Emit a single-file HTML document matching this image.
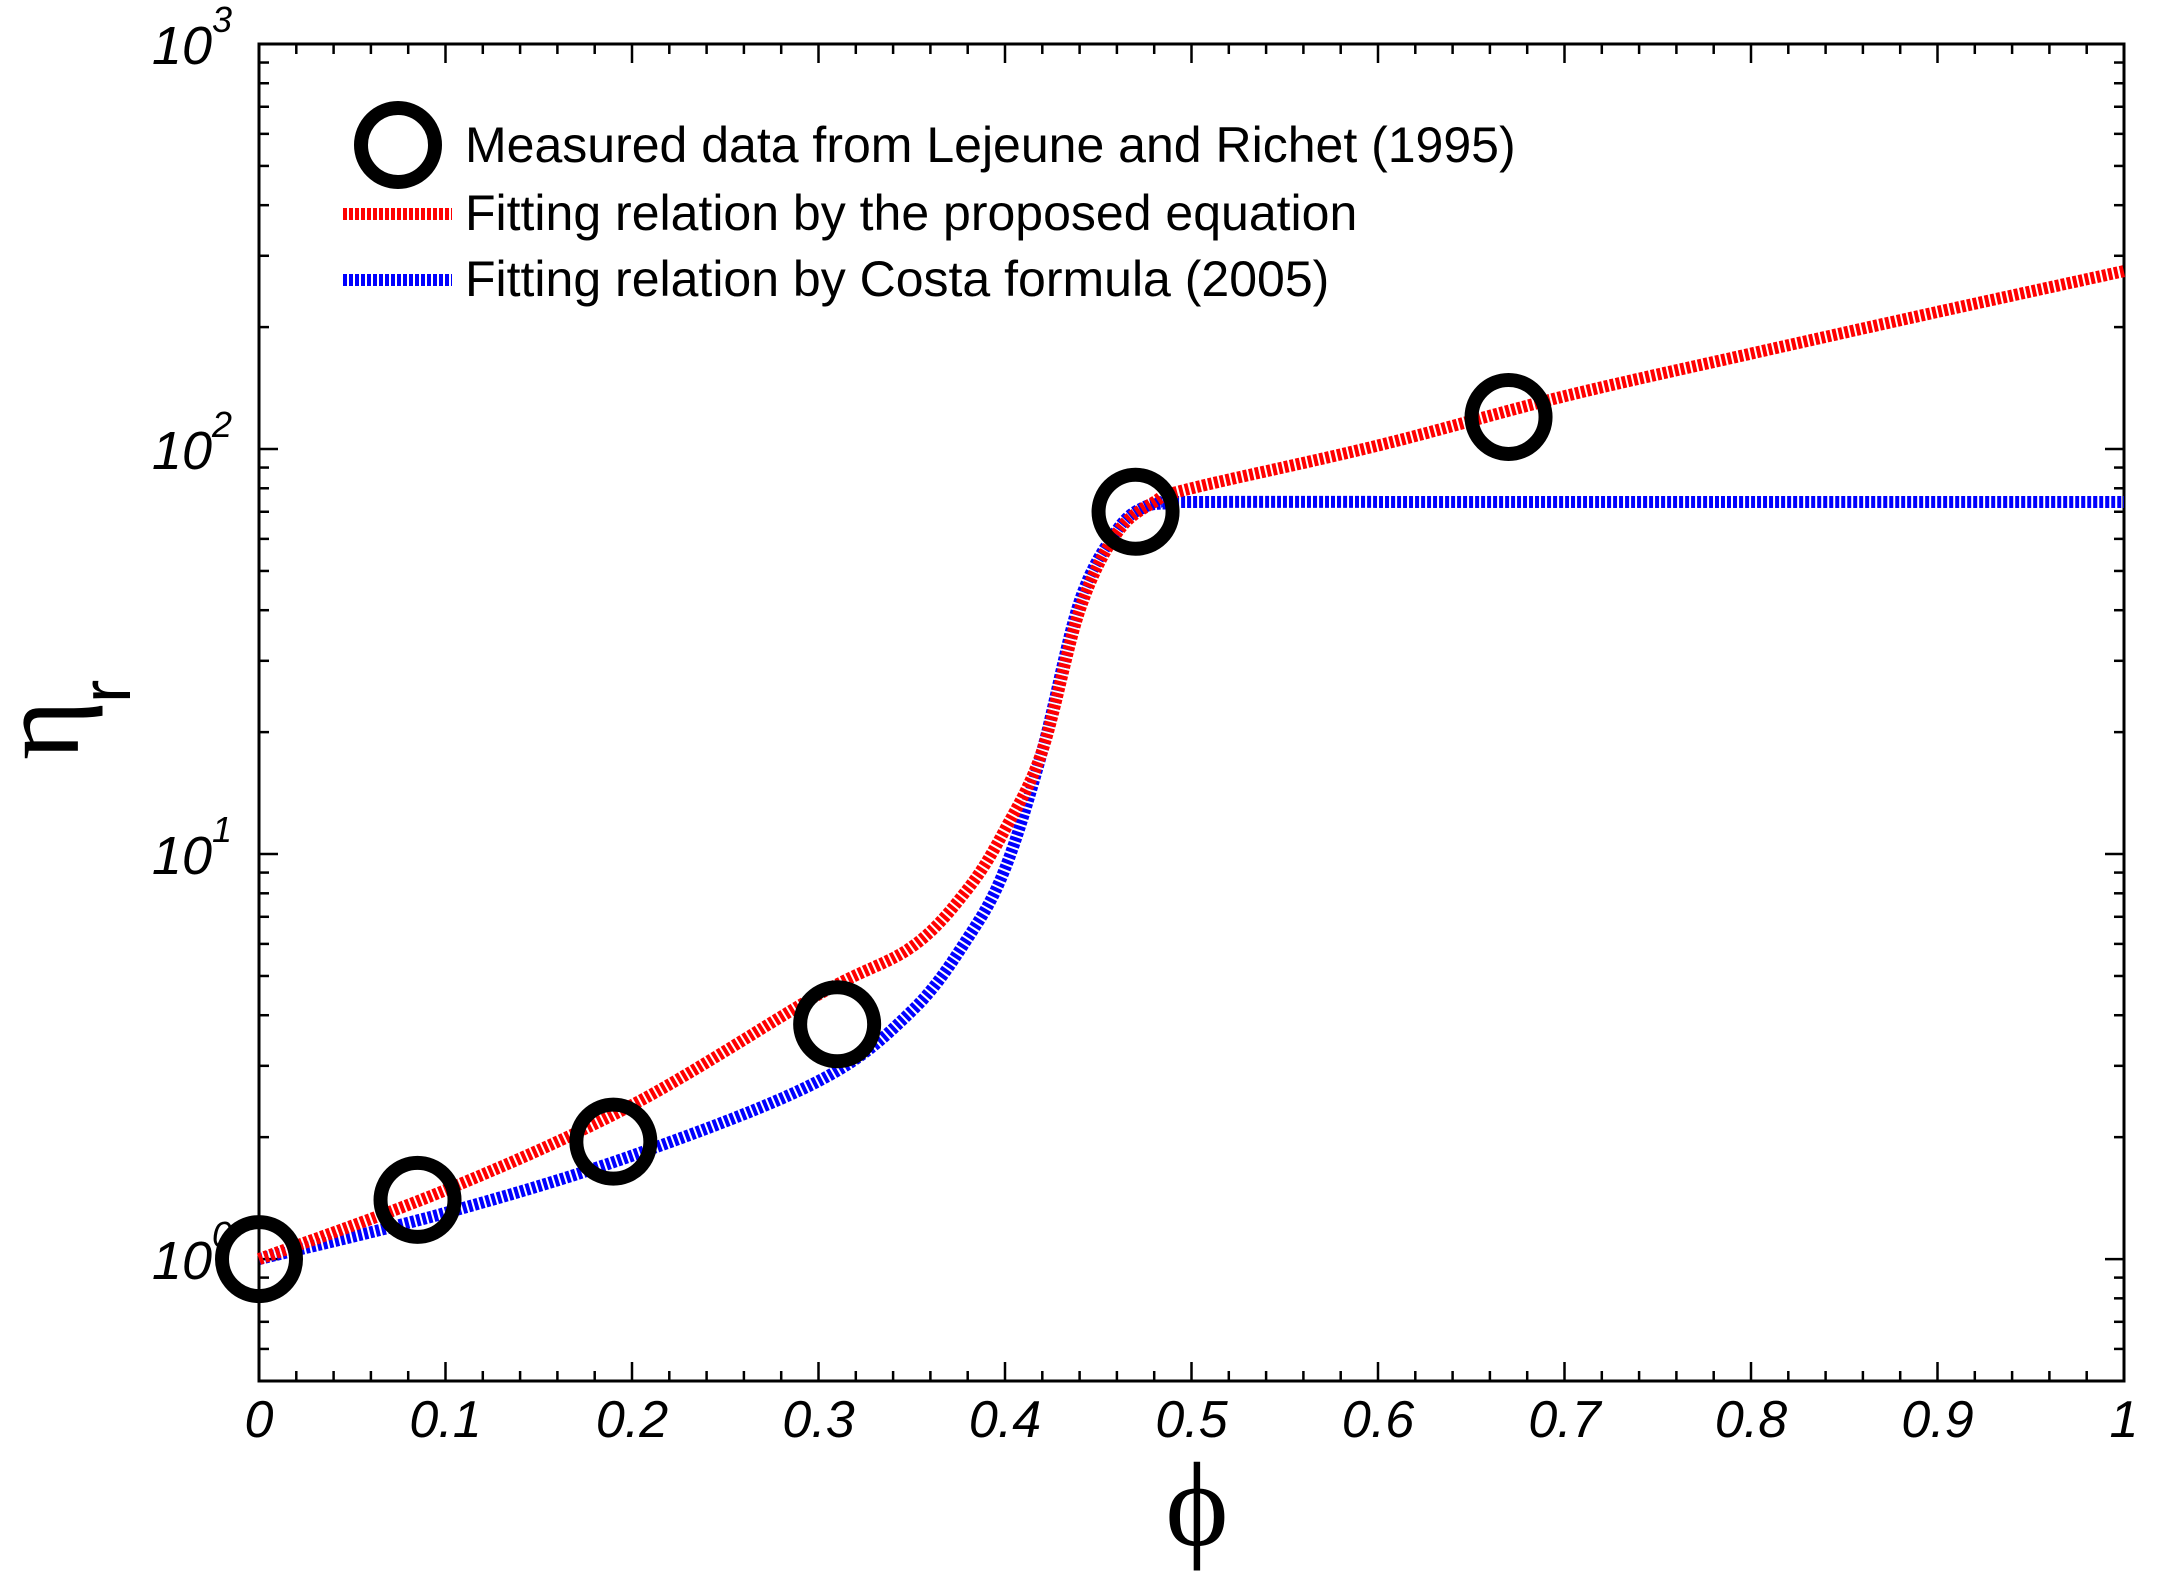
<!DOCTYPE html>
<html><head><meta charset="utf-8"><style>
html,body{margin:0;padding:0;background:#fff}
svg{display:block}
text{font-family:"Liberation Sans",Arial,sans-serif}
</style></head><body>
<svg id="chart" width="2158" height="1593" viewBox="0 0 2158 1593" xmlns="http://www.w3.org/2000/svg">
<g id="grid"></g>
<g id="series"></g>
<g id="legend">
  <circle cx="398" cy="145" r="37" fill="none" stroke="#000" stroke-width="14"/>
  <text x="465" y="162" font-size="50">Measured data from Lejeune and Richet (1995)</text>
  <line x1="343" y1="214" x2="452" y2="214" stroke="#ff0000" stroke-width="12" stroke-dasharray="4 2"/>
  <text x="465" y="230" font-size="50">Fitting relation by the proposed equation</text>
  <line x1="343" y1="280" x2="452" y2="280" stroke="#0000ff" stroke-width="12" stroke-dasharray="4 2"/>
  <text x="465" y="296" font-size="50">Fitting relation by Costa formula (2005)</text>
</g>
<text x="1197" y="1545" font-size="120" text-anchor="middle" style="font-family:'Liberation Serif','DejaVu Serif',serif">ϕ</text>
<g>
  <text transform="translate(78,760) rotate(-90)" font-size="115" style="font-family:'Liberation Serif',serif">η</text>
  <text transform="translate(130,703) rotate(-90)" font-size="70">r</text>
</g>
</svg>
<script>
const xTicks=[0,0.1,0.2,0.3,0.4,0.5,0.6,0.7,0.8,0.9,1];
const xTickLabels=["0","0.1","0.2","0.3","0.4","0.5","0.6","0.7","0.8","0.9","1"];
const yDecades=[0,1,2,3];
const measuredX=[0,0.085,0.19,0.31,0.47,0.67];
const measuredY=[1,1.4,1.95,3.8,70,120];
const proposedX=[0,0.1,0.2,0.3,0.35,0.38,0.4,0.42,0.44,0.46,0.48,0.5,0.6,0.7,0.8,0.9,1];
const proposedY=[1,1.48,2.4,4.5,5.9,8.2,11.5,18,40,62,74,80,102,135,172,218,275];
const costaX=[0,0.1,0.2,0.3,0.35,0.38,0.4,0.42,0.44,0.46,0.475,0.49,0.5,0.7,1];
const costaY=[1,1.3,1.8,2.75,4.1,6.2,9.2,18,42,63,72,73.5,74,74,74];

const L=259,R=2124,T=44,B=1381,YMIN=Math.log10(0.5),YMAX=3;
const sx=v=>L+(v-0)/(1-0)*(R-L);
const sy=v=>B-(Math.log10(v)-YMIN)/(YMAX-YMIN)*(B-T);
const NS="http://www.w3.org/2000/svg";
function mk(tag,attrs,parent){const e=document.createElementNS(NS,tag);for(const k in attrs)e.setAttribute(k,attrs[k]);parent.appendChild(e);return e;}
const g=document.getElementById('grid');
const frame=mk('rect',{x:L,y:T,width:R-L,height:B-T,fill:'none',stroke:'#000','stroke-width':3},g);


for(let i=0;i<=50;i++){
  const v=i/50,x=sx(v),major=i%5===0,len=major?19:10;
  const t1=mk('line',{x1:x,y1:B,x2:x,y2:B-len,stroke:'#000','stroke-width':2.5},g);
  
  
  const t2=mk('line',{x1:x,y1:T,x2:x,y2:T+len,stroke:'#000','stroke-width':2.5},g);
  
  
}
xTicks.forEach((v,i)=>{
  const t=mk('text',{x:sx(v),y:1437,'font-size':52,'font-style':'italic','text-anchor':'middle'},g);
  t.textContent=xTickLabels[i];
  
  
});
for(let d=-1;d<3;d++){for(let m=1;m<10;m++){
  const v=m*Math.pow(10,d); if(v<0.5||v>1000)continue;
  const y=sy(v),len=m===1?19:10;
  const a=mk('line',{x1:L,y1:y,x2:L+len,y2:y,stroke:'#000','stroke-width':2.5},g);
  
  
  const b=mk('line',{x1:R,y1:y,x2:R-len,y2:y,stroke:'#000','stroke-width':2.5},g);
  
  
}}
yDecades.forEach(d=>{
  const y=sy(Math.pow(10,d));
  const t=mk('text',{x:212,y:y+20,'font-size':54,'font-style':'italic','text-anchor':'end'},g);
  t.textContent='10';
  
  
  const s=mk('text',{x:212,y:y-12,'font-size':36,'font-style':'italic'},g);
  s.textContent=String(d);
  
  
});
const sg=document.getElementById('series');
function path(xs,ys){
  const P=xs.map((x,i)=>[sx(x),sy(ys[i])]);
  let d='M'+P[0][0].toFixed(1)+','+P[0][1].toFixed(1);
  for(let i=0;i<P.length-1;i++){
    const p0=P[Math.max(0,i-1)],p1=P[i],p2=P[i+1],p3=P[Math.min(P.length-1,i+2)];
    const t=1/6;
    const c1=[p1[0]+(p2[0]-p0[0])*t,p1[1]+(p2[1]-p0[1])*t];
    const c2=[p2[0]-(p3[0]-p1[0])*t,p2[1]-(p3[1]-p1[1])*t];
    d+='C'+c1.map(v=>v.toFixed(1)).join(',')+' '+c2.map(v=>v.toFixed(1)).join(',')+' '+p2[0].toFixed(1)+','+p2[1].toFixed(1);
  }
  return d;
}
const cl=mk('path',{d:path(costaX,costaY),fill:'none',stroke:'#0000ff','stroke-width':12,'stroke-dasharray':'4 2','stroke-linejoin':'round'},sg);


const pl=mk('path',{d:path(proposedX,proposedY),fill:'none',stroke:'#ff0000','stroke-width':12,'stroke-dasharray':'4 2','stroke-linejoin':'round'},sg);


measuredX.forEach((x,i)=>{
  const c=mk('circle',{cx:sx(x),cy:sy(measuredY[i]),r:37,fill:'none',stroke:'#000','stroke-width':14},sg);
  
  
});
</script>
</body></html>
